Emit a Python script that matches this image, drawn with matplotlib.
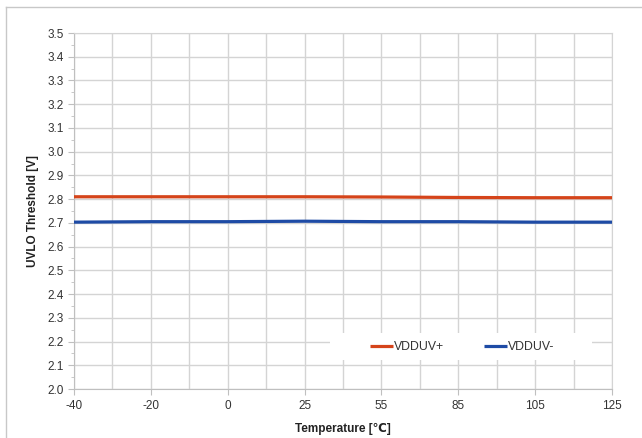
import matplotlib
matplotlib.use("Agg")
import matplotlib.pyplot as plt
from matplotlib.lines import Line2D
from matplotlib.patches import Rectangle
from matplotlib.ticker import MultipleLocator, FixedLocator
import numpy as np

plt.rcParams['font.family'] = ['Liberation Sans', 'DejaVu Sans']

temps = ["-40", "-20", "0", "25", "55", "85", "105", "125"]
vdduv_plus = [2.810, 2.810, 2.810, 2.810, 2.809, 2.807, 2.806, 2.806]
vdduv_minus = [2.703, 2.705, 2.705, 2.707, 2.705, 2.705, 2.703, 2.703]

fig = plt.figure(figsize=(6.42, 4.38), dpi=100)
ax = fig.add_axes([74/642, 1-389/438, (612-74)/642, (389-33)/438])

x = np.arange(len(temps))
ax.plot(x, vdduv_plus, color='#D5441A', lw=2.3, label='VDDUV+', solid_capstyle='butt', zorder=3)
ax.plot(x, vdduv_minus, color='#1E4BA5', lw=2.3, label='VDDUV-', solid_capstyle='butt', zorder=3)

ax.set_xlim(0, len(temps)-1)
ax.set_ylim(2.0, 3.5)
ax.set_xticks(x)
ax.set_xticklabels(temps)
ax.xaxis.set_minor_locator(FixedLocator(x[:-1] + 0.5))
ax.yaxis.set_major_locator(MultipleLocator(0.1))
ax.yaxis.set_minor_locator(MultipleLocator(0.05))
ax.yaxis.set_major_formatter(matplotlib.ticker.FormatStrFormatter('%.1f'))

ax.grid(True, which='major', axis='both', color='#d4d4d4', lw=1.0)
ax.grid(True, which='minor', axis='x', color='#d4d4d4', lw=1.0)
ax.set_axisbelow(True)

for s in ['top', 'right']:
    ax.spines[s].set_color('#d4d4d4')
for s in ['left', 'bottom']:
    ax.spines[s].set_color('#bfbfbf')

ax.tick_params(axis='both', which='major', labelsize=8.5, colors='#bfbfbf', labelcolor='#333333', length=4)
ax.tick_params(axis='y', which='minor', length=2, colors='#bfbfbf')
ax.tick_params(axis='x', which='minor', length=0)
ax.tick_params(axis='x', pad=4)

ax.set_xlabel('Temperature [℃]', fontsize=8.5, fontweight='bold', color='#222222', labelpad=8)
ax.set_ylabel('UVLO Threshold [V]', fontsize=8.5, fontweight='bold', color='#222222', labelpad=6)

# legend background box
ax.add_patch(Rectangle((0.476, 0.0815), 0.963-0.476, 0.157-0.0815, transform=ax.transAxes,
                       facecolor='white', edgecolor='none', zorder=1))
leg = ax.legend(loc='center left', bbox_to_anchor=(0.550, 0.118), ncol=2, fontsize=8.8,
                frameon=False, handlelength=1.85, handletextpad=0.1, columnspacing=3.3,
                borderpad=0, borderaxespad=0)
for t in leg.get_texts():
    t.set_color('#333333')

# outer frame
fig.add_artist(Line2D([6/642, 1], [1-7/438, 1-7/438], color='#c8c8c8', lw=1, transform=fig.transFigure))
fig.add_artist(Line2D([6/642, 6/642], [0, 1-7/438], color='#c8c8c8', lw=1, transform=fig.transFigure))

fig.savefig('out.png', dpi=100)
